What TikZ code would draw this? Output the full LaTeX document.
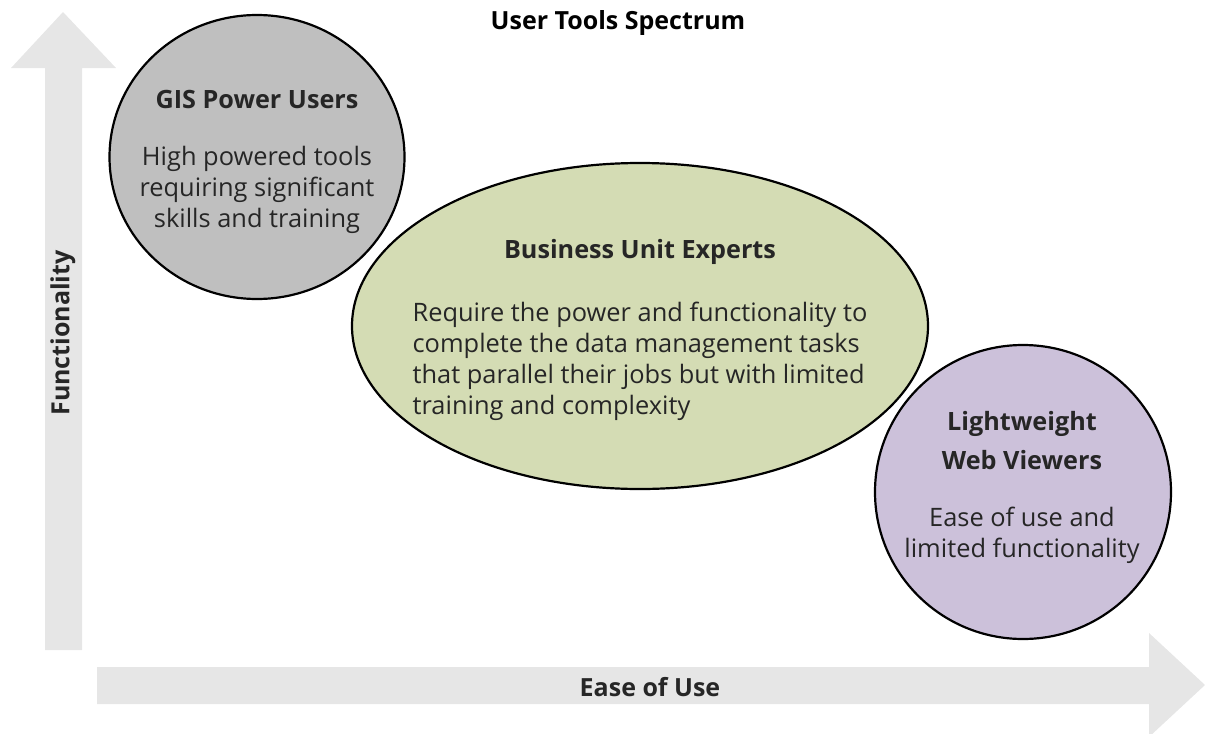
\documentclass[tikz,border=0pt]{standalone}
\usepackage{fontspec}
\setmainfont{Open Sans}
\usepackage{tikz}
\usetikzlibrary{shapes.geometric}

\definecolor{arrowgray}{HTML}{E6E6E6}
\definecolor{powergray}{HTML}{BFBFBF}
\definecolor{expertgreen}{HTML}{D4DCB4}
\definecolor{viewerpurple}{HTML}{CCC1DA}
\definecolor{textdark}{HTML}{262626}

\begin{document}
\begin{tikzpicture}[x=0.5pt, y=-0.5pt]
    \tikzstyle{usergroup} = [ellipse, draw=black, line width=1.1pt, inner sep=0pt]
    \tikzstyle{heading} = [font=\fontsize{12.6}{19.5}\selectfont\bfseries, text=textdark, align=center]
    \tikzstyle{blurb} = [font=\fontsize{12.7}{15.5}\selectfont, text=textdark, align=center]
    \tikzstyle{axislabel} = [font=\fontsize{12.5}{14}\selectfont\bfseries, text=textdark]

    \useasboundingbox (0,0) rectangle (1206,734);

    % Axes
    \fill[arrowgray] (45,650) -- (45,68) -- (11,68) -- (63,12) -- (116,68) -- (82,68) -- (82,650) -- cycle;
    \fill[arrowgray] (97,667) -- (1149,667) -- (1149,633) -- (1205,685) -- (1149,737) -- (1149,704) -- (97,704) -- cycle;
    \node[axislabel, rotate=90] (func) at (63,333) {Functionality};
    \node[axislabel] (ease) at (650,687) {Ease of Use};

    % Title
    \node[axislabel, text=black] (title) at (618,23) {User Tools Spectrum};

    % User groups (sizes in pt = half the pixels)
    \node[usergroup, fill=powergray, minimum width=147.5pt, minimum height=142pt] (power) at (257,157) {};
    \node[usergroup, fill=expertgreen, minimum width=288pt, minimum height=163pt] (expert) at (640,326) {};
    \node[usergroup, fill=viewerpurple, minimum width=148pt, minimum height=147pt] (viewer) at (1023,492) {};

    \node[heading] (powerhead) at (257,99) {GIS Power Users};
    \node[blurb] (powertext) at (257,190) {High powered tools\\requiring significant\\skills and training};

    \node[heading] (experthead) at (640,252) {Business Unit Experts};
    \node[blurb, align=left] (experttext) at (640,361) {Require the power and functionality to\\complete the data management tasks\\that parallel their jobs but with limited\\training and complexity};

    \node[heading] (viewerhead) at (1022,441) {Lightweight\\Web Viewers};
    \node[blurb] (viewertext) at (1022,535) {Ease of use and\\limited functionality};
\end{tikzpicture}
\end{document}
